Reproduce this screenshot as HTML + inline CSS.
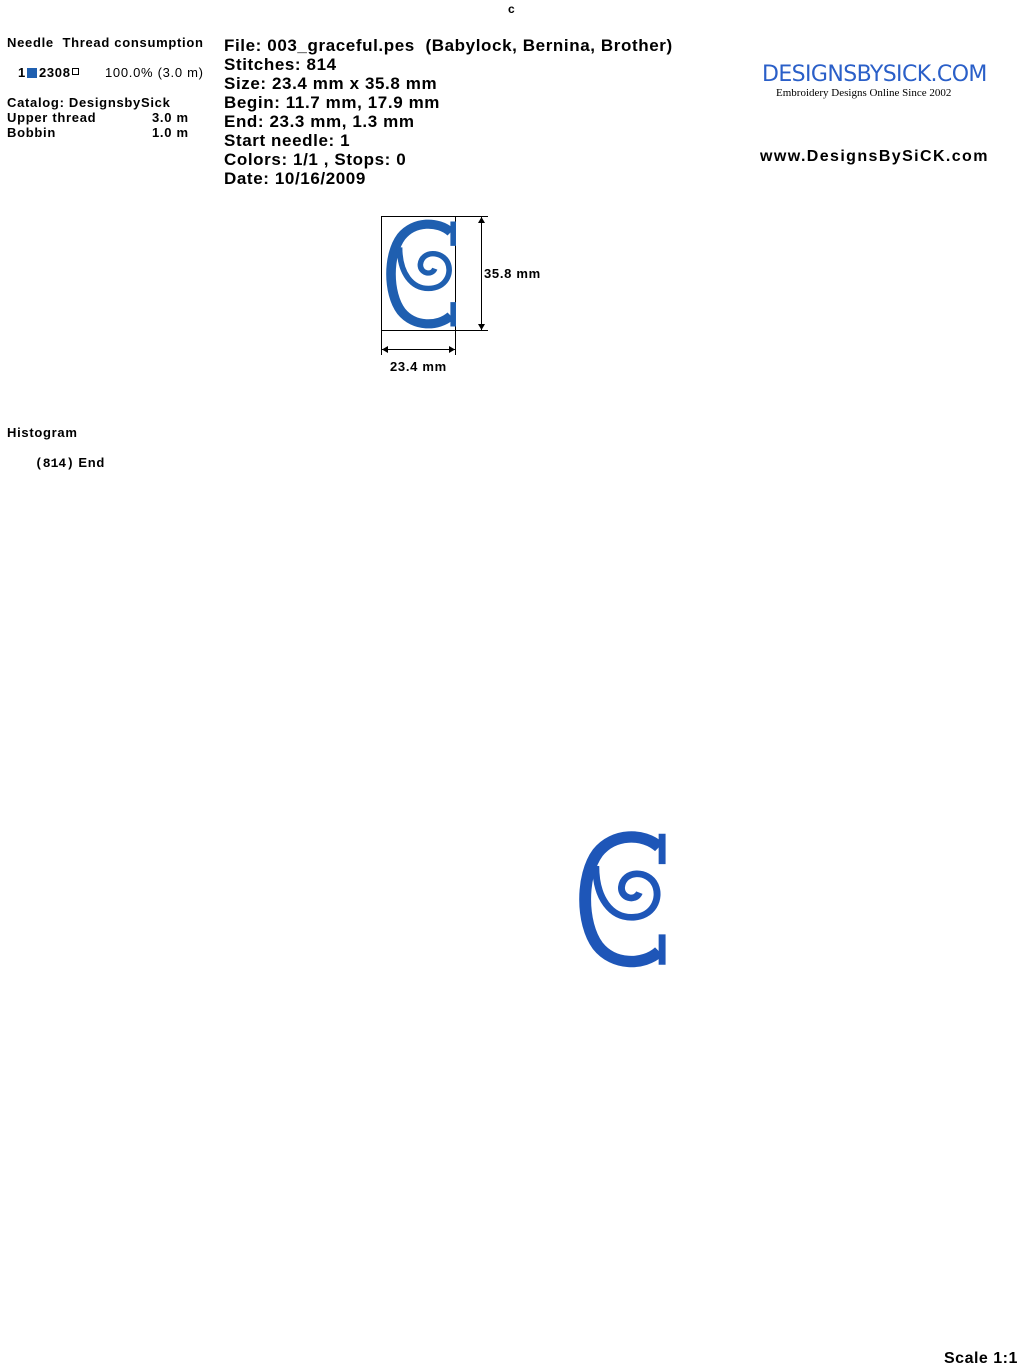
<!DOCTYPE html>
<html><head><meta charset="utf-8"><style>
body{margin:0;width:1024px;height:1370px;background:#fff;position:relative;font-family:"Liberation Sans",Arial,sans-serif;font-weight:bold;color:#000;overflow:hidden}
.a{position:absolute;white-space:nowrap}
.s{font-size:13px;letter-spacing:0.7px}
.b{font-size:17px;line-height:19px;letter-spacing:0.6px}
</style></head><body>
<svg width="0" height="0" style="position:absolute"><defs>
<g id="C">
<path d="M86,20 C70,5 40,5 24,26 C7,50 7,100 24,124 C40,145 70,145 86,130" fill="none" stroke="currentColor" stroke-width="12"/>
<path d="M89,6 L89,38 M89,112 L89,144" stroke="currentColor" stroke-width="7"/>
<path d="M22,40 C22,75 38,94 58,94 C80,94 88,74 82,60 C75,44 50,44 48,62 C47,74 62,78 66,68" fill="none" stroke="currentColor" stroke-width="7"/>
</g></defs></svg>
<div class="a s" style="left:508px;top:2px;font-size:12px">c</div>
<div class="a s" style="left:7px;top:35px">Needle&nbsp;&nbsp;Thread consumption</div>
<div class="a s" style="left:18px;top:65px">1<span style="display:inline-block;width:10px;height:10px;background:#1f5fb0;margin:0 2px 0 1px;vertical-align:-1px"></span>2308<span style="display:inline-block;width:5px;height:5px;border:1px solid #000;margin-left:1px;vertical-align:2px"></span></div>
<div class="a s" style="left:105px;top:65px;font-weight:normal">100.0% (3.0 m)</div>
<div class="a s" style="left:7px;top:95px">Catalog: DesignsbySick</div>
<div class="a s" style="left:7px;top:110px">Upper thread</div>
<div class="a s" style="left:152px;top:110px">3.0 m</div>
<div class="a s" style="left:7px;top:125px">Bobbin</div>
<div class="a s" style="left:152px;top:125px">1.0 m</div>
<div class="a b" style="left:224px;top:36px">File: 003_graceful.pes&nbsp; (Babylock, Bernina, Brother)<br>Stitches: 814<br>Size: 23.4 mm x 35.8 mm<br>Begin: 11.7 mm, 17.9 mm<br>End: 23.3 mm, 1.3 mm<br>Start needle: 1<br>Colors: 1/1 , Stops: 0<br>Date: 10/16/2009</div>
<div class="a" style="left:762px;top:62px;font-size:22px;color:#2a5fc8;font-weight:normal;font-family:'DejaVu Sans',sans-serif;letter-spacing:-0.6px">DESIGNSBYSICK.COM</div>
<div class="a" style="left:776px;top:87px;font-size:11px;font-weight:normal;font-family:'Liberation Serif',serif">Embroidery Designs Online Since 2002</div>
<div class="a" style="left:760px;top:148px;font-size:16px;letter-spacing:1.4px">www.DesignsBySiCK.com</div>
<svg class="a" style="left:370px;top:205px" width="200" height="180">
<rect x="11.5" y="11.5" width="74" height="114" fill="none" stroke="#000"/>
<line x1="86" y1="11.5" x2="118" y2="11.5" stroke="#000"/>
<line x1="86" y1="125.5" x2="118" y2="125.5" stroke="#000"/>
<line x1="111.5" y1="12" x2="111.5" y2="125" stroke="#000"/>
<path d="M108,18 L111.5,12 L115,18 M108,119 L111.5,125 L115,119" fill="#000"/>
<line x1="11.5" y1="126" x2="11.5" y2="150" stroke="#000"/>
<line x1="85.5" y1="126" x2="85.5" y2="150" stroke="#000"/>
<line x1="12" y1="144.5" x2="85" y2="144.5" stroke="#000"/>
<path d="M18,141 L12,144.5 L18,148 M79,141 L85,144.5 L79,148" fill="#000"/>
<g transform="translate(12,12) scale(0.8,0.76)" style="color:#1f5fb0"><use href="#C"/></g>
</svg>
<div class="a s" style="left:484px;top:266px">35.8 mm</div>
<div class="a s" style="left:390px;top:359px">23.4 mm</div>
<div class="a s" style="left:7px;top:425px">Histogram</div>
<div class="a s" style="left:35px;top:455px"><span style="font-family:'Liberation Mono',monospace;letter-spacing:0">(814)</span> End</div>
<svg class="a" style="left:574px;top:828px" width="96" height="145"><g transform="scale(0.99,0.95)" style="color:#1e56b8"><use href="#C"/></g></svg>
<div class="a" style="left:944px;top:1350px;font-size:16px;letter-spacing:0.5px">Scale 1:1</div>
</body></html>
